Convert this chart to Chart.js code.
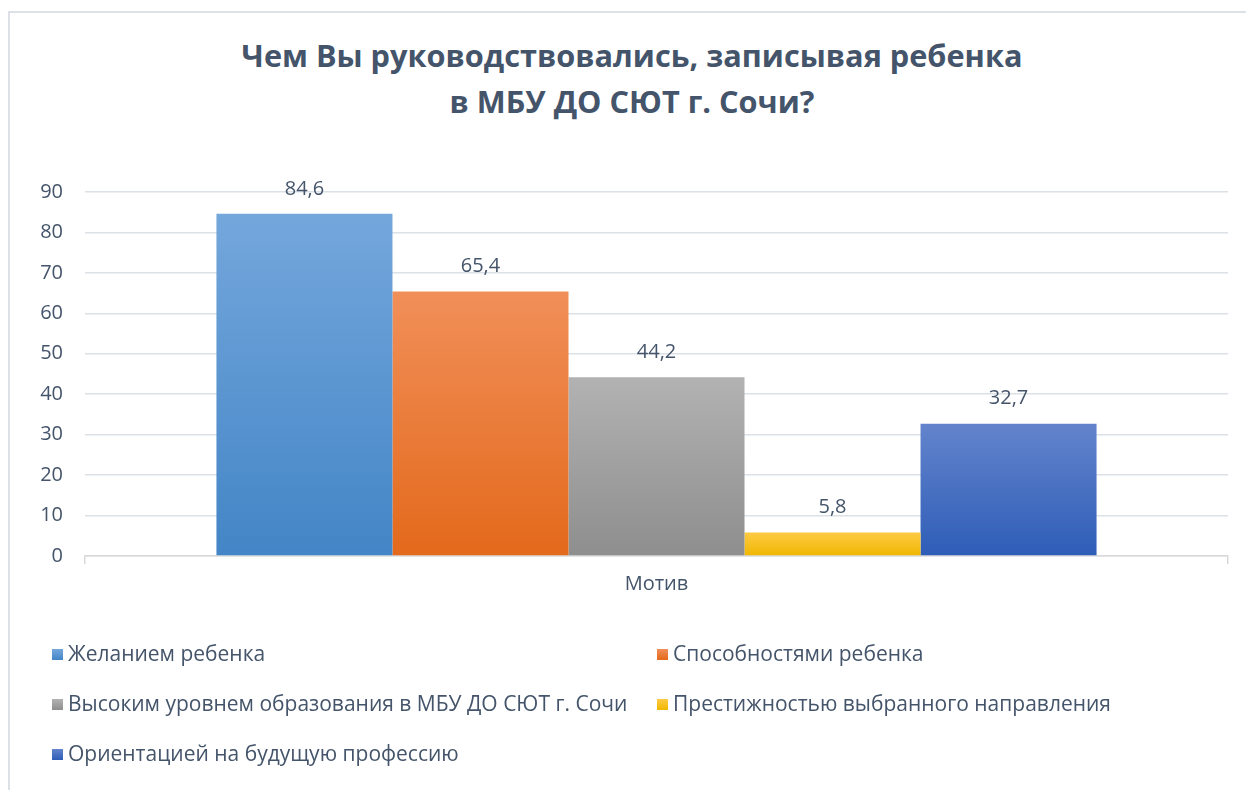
<!DOCTYPE html>
<html>
<head>
<meta charset="utf-8">
<script src="https://cdn.jsdelivr.net/npm/chart.js@4.4.0/dist/chart.umd.min.js"></script>
<style>
  html, body { margin:0; padding:0; background:#fff; }
  body { width:1246px; height:790px; position:relative; overflow:hidden; font-family:"Open Sans", sans-serif; color:#44546A; }
  #frame { position:absolute; left:8px; top:11px; width:1300px; height:850px; border:2px solid #DCE1E7; box-sizing:border-box; }
  #title { position:absolute; left:9px; top:32px; width:1246px; text-align:center; font-weight:700; font-size:30.7px; line-height:46px; color:#44546A; }
  #chart { position:absolute; left:0; top:0; }
  #legend { position:absolute; left:52px; top:638px; width:1190px; display:grid; grid-template-columns:605px 585px; row-gap:20px; font-size:21px; }
  #legend div { height:30px; line-height:30px; white-space:nowrap; }
  #legend span { display:inline-block; width:11px; height:11px; margin-right:5px; vertical-align:1px; }
</style>
</head>
<body>
<div id="frame"></div>
<div id="title">Чем Вы руководствовались, записывая ребенка<br>в МБУ ДО СЮТ г. Сочи?</div>
<canvas id="chart" width="1246" height="790"></canvas>
<div id="legend"></div>
<script>
// data
const categories = ['Мотив'];
const seriesNames = [
  'Желанием ребенка',
  'Способностями ребенка',
  'Высоким уровнем образования в МБУ ДО СЮТ г. Сочи',
  'Престижностью выбранного направления',
  'Ориентацией на будущую профессию'
];
const seriesValues = [84.6, 65.4, 44.2, 5.8, 32.7];
const yTicks = { min: 0, max: 90, step: 10 };

// top / bottom of each bar's gradient
const colorsTop = ['#74A7DC', '#F18F59', '#B2B2B2', '#FFCA45', '#6384CC'];
const colorsBottom = ['#4385C6', '#E3691B', '#8E8E8E', '#EFB700', '#2E5DB7'];
const textColor = '#44546A';

function grad(i){
  return function(ctx){
    const c = ctx.chart, y = c.scales && c.scales.y;
    if (!c.chartArea || !y || ctx.raw == null) return colorsBottom[i];
    const y0 = y.getPixelForValue(ctx.raw), y1 = y.getPixelForValue(0);
    if (!isFinite(y0) || !isFinite(y1) || y0 === y1) return colorsBottom[i];
    const g = c.ctx.createLinearGradient(0, y0, 0, y1);
    g.addColorStop(0, colorsTop[i]);
    g.addColorStop(1, colorsBottom[i]);
    return g;
  };
}

const valueLabels = {
  id: 'valueLabels',
  afterDatasetsDraw(chart){
    const ctx = chart.ctx;
    ctx.save();
    ctx.font = '20px "Open Sans"';
    ctx.fillStyle = textColor;
    ctx.textAlign = 'center';
    ctx.textBaseline = 'middle';
    chart.data.datasets.forEach((ds, i) => {
      chart.getDatasetMeta(i).data.forEach((el, j) => {
        ctx.fillText(String(ds.data[j]).replace('.', ','), el.x, el.y - 25);
      });
    });
    ctx.restore();
  }
};

new Chart(document.getElementById('chart'), {
  type: 'bar',
  data: {
    labels: categories,
    datasets: seriesNames.map((n, i) => ({
      label: n,
      data: [seriesValues[i]],
      backgroundColor: grad(i),
      borderWidth: 0,
      barPercentage: 1,
      categoryPercentage: 0.77
    }))
  },
  options: {
    responsive: false,
    animation: false,
    layout: { padding: { top: 192, right: 18, bottom: 194, left: 0 } },
    plugins: { legend: { display: false }, title: { display: false }, tooltip: { enabled: false } },
    scales: {
      x: {
        afterFit: s => { s.height = 40; },
        grid: { drawOnChartArea: false, drawTicks: true, tickLength: 8, color: '#D9D9D9', lineWidth: 1.5 },
        border: { display: true, color: '#D9D9D9', width: 1.5 },
        ticks: { color: textColor, font: { family: 'Open Sans', size: 20 }, padding: 8 }
      },
      y: {
        min: yTicks.min, max: yTicks.max,
        afterFit: s => { s.width = 85; },
        grid: { drawTicks: false, color: '#DCE1E7', lineWidth: 1.5 },
        border: { display: false },
        ticks: { stepSize: yTicks.step, color: textColor, font: { family: 'Open Sans', size: 20 }, padding: 22 }
      }
    }
  },
  plugins: [valueLabels]
});

// html legend in two columns
const lg = document.getElementById('legend');
seriesNames.forEach((n, i) => {
  const d = document.createElement('div');
  d.innerHTML = '<span style="background:linear-gradient(' + colorsTop[i] + ',' + colorsBottom[i] + ')"></span>' + n;
  lg.appendChild(d);
});
</script>
</body>
</html>
